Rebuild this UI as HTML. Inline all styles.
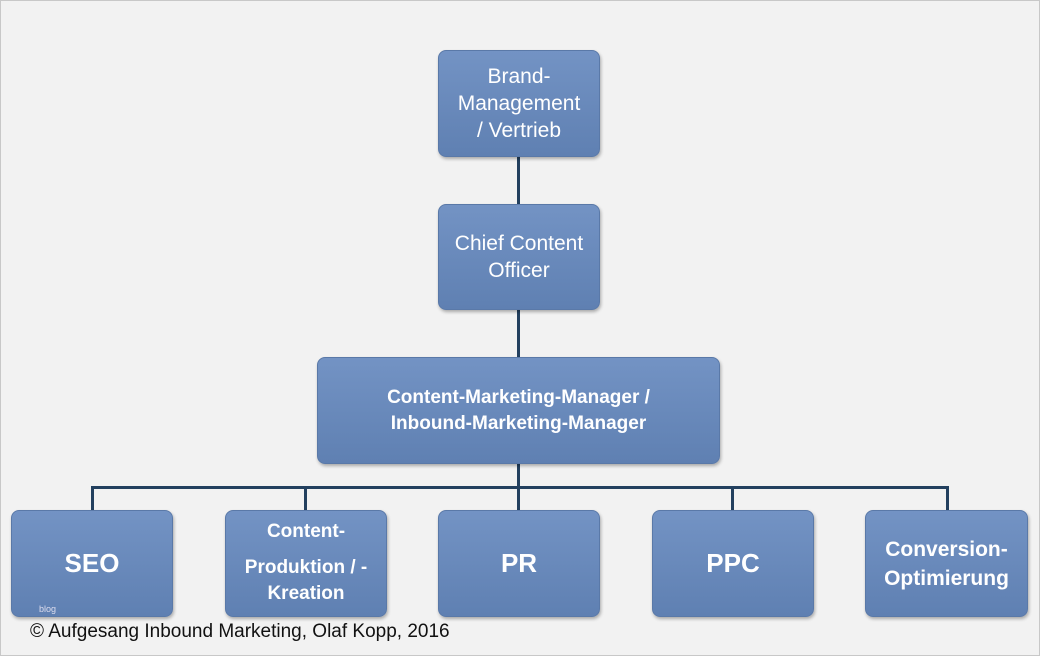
<!DOCTYPE html>
<html><head><style>
body{margin:0;width:1040px;height:656px;background:#f2f2f2;overflow:hidden;font-family:"Liberation Sans",sans-serif}
.frame{position:absolute;left:0;top:0;width:1038px;height:654px;border:1px solid #c8c8c8}
.b{position:absolute;box-sizing:border-box;border-radius:8px;background:linear-gradient(#7393c4,#5f80b2);border:1px solid #5a79a8;box-shadow:1px 2px 3px rgba(0,0,0,.3);color:#fff;display:flex;align-items:center;justify-content:center;text-align:center}
.l{position:absolute;background:#23405f}
.t{position:absolute;left:0;width:100%;text-align:center}
</style></head><body>
<div class="frame"></div>
<div class="l" style="left:517px;top:157px;width:3px;height:47px"></div>
<div class="l" style="left:517px;top:310px;width:3px;height:47px"></div>
<div class="l" style="left:517px;top:464px;width:3px;height:46px"></div>
<div class="l" style="left:91px;top:486px;width:858px;height:3px"></div>
<div class="l" style="left:91px;top:486px;width:3px;height:24px"></div>
<div class="l" style="left:304px;top:486px;width:3px;height:24px"></div>
<div class="l" style="left:731px;top:486px;width:3px;height:24px"></div>
<div class="l" style="left:946px;top:486px;width:3px;height:24px"></div>
<div class="b" style="left:438px;top:50px;width:162px;height:107px;font-size:21px;line-height:27px">Brand-<br>Management<br>/ Vertrieb</div>
<div class="b" style="left:438px;top:204px;width:162px;height:106px;font-size:21px;line-height:27px">Chief Content<br>Officer</div>
<div class="b" style="left:317px;top:357px;width:403px;height:107px;font-size:19px;line-height:26px;font-weight:bold">Content-Marketing-Manager /<br>Inbound-Marketing-Manager</div>
<div class="b" style="left:11px;top:510px;width:162px;height:107px;font-size:26px;font-weight:bold">SEO</div>
<div class="b" style="left:225px;top:510px;width:162px;height:107px;font-size:19px;font-weight:bold;display:block">
<div class="t" style="top:10px">Content-</div>
<div class="t" style="top:46px">Produktion / -</div>
<div class="t" style="top:72px">Kreation</div>
</div>
<div class="b" style="left:438px;top:510px;width:162px;height:107px;font-size:26px;font-weight:bold">PR</div>
<div class="b" style="left:652px;top:510px;width:162px;height:107px;font-size:26px;font-weight:bold">PPC</div>
<div class="b" style="left:865px;top:510px;width:163px;height:107px;font-size:21px;line-height:29px;font-weight:bold">Conversion-<br>Optimierung</div>
<div style="position:absolute;left:39px;top:604px;font-size:9px;color:#dde">blog</div>
<div style="position:absolute;left:30px;top:621px;font-size:19px;color:#111">© Aufgesang Inbound Marketing, Olaf Kopp, 2016</div>
</body></html>
